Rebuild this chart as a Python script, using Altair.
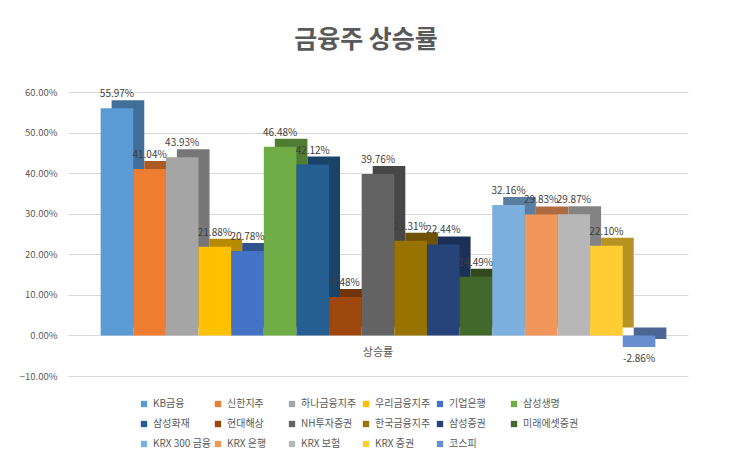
import altair as alt
import pandas as pd

category = "상승률"
series = ["KB금융", "신한지주", "하나금융지주", "우리금융지주", "기업은행", "삼성생명",
          "삼성화재", "현대해상", "NH투자증권", "한국금융지주", "삼성증권", "미래에셋증권",
          "KRX 300 금융", "KRX 은행", "KRX 보험", "KRX 증권", "코스피"]
values = [55.97, 41.04, 43.93, 21.88, 20.78, 46.48,
          42.12, 9.48, 39.76, 23.31, 22.44, 14.49,
          32.16, 29.83, 29.87, 22.10, -2.86]
colors = ["#5B9BD5", "#ED7D31", "#A5A5A5", "#FFC000", "#4472C4", "#70AD47",
          "#255E91", "#9E480E", "#636363", "#997300", "#264478", "#43682B",
          "#7CAFDD", "#F1975A", "#B7B7B7", "#FFCD33", "#698ED0"]
y_ticks = [-10, 0, 10, 20, 30, 40, 50, 60]


def darken(h, f=0.72):
    h = h.lstrip("#")
    r, g, b = (int(h[i:i + 2], 16) for i in (0, 2, 4))
    return "#{:02x}{:02x}{:02x}".format(int(r * f), int(g * f), int(b * f))


df = pd.DataFrame({
    "cat": category,
    "series": series,
    "value": values,
    "side": [darken(c) for c in colors],
    "label": [f"{v:.2f}%" for v in values],
})

FONT = "Noto Sans CJK KR"

x_enc = alt.X("series:N", sort=series, axis=None,
              scale=alt.Scale(paddingInner=0, paddingOuter=1))
y_enc = alt.Y("value:Q",
              scale=alt.Scale(domain=[-10, 60], nice=False, zero=True),
              axis=alt.Axis(values=y_ticks, title=None, domain=False, ticks=False,
                            labelExpr="format(datum.value, '.2f') + '%'",
                            gridColor="#d9d9d9", labelColor="#595959",
                            labelFontSize=9.5, labelPadding=11, labelFont=FONT))

base = alt.Chart(df).encode(x=x_enc)

back = base.mark_bar(xOffset=11, x2Offset=11, yOffset=-8, y2Offset=-8).encode(
    y=y_enc,
    color=alt.Color("side:N", scale=None),
)

front = base.mark_bar().encode(
    y=alt.Y("value:Q"),
    color=alt.Color("series:N", sort=series,
                    scale=alt.Scale(domain=series, range=colors),
                    legend=alt.Legend(title=None, orient="none", legendX=71, legendY=307,
                                      direction="horizontal", gridAlign="all",
                                      columns=6, symbolType="square", symbolSize=40,
                                      labelFontSize=10, labelColor="#595959", labelFont=FONT,
                                      columnPadding=1, rowPadding=10)),
)

labels_pos = base.transform_filter("datum.value >= 0").mark_text(
    dy=-14, fontSize=10, color="#404040", font=FONT
).encode(y=alt.Y("value:Q"), text="label:N")

labels_neg = base.transform_filter("datum.value < 0").mark_text(
    dy=12, fontSize=10, color="#404040", font=FONT
).encode(y=alt.Y("value:Q"), text="label:N")

cat_label = alt.Chart(pd.DataFrame({"cat": [category]})).mark_text(
    dy=18, fontSize=11, color="#595959", font=FONT
).encode(x=alt.datum(series[len(series) // 2]), y=alt.datum(0), text="cat:N")

chart = alt.layer(back, front, labels_pos, labels_neg, cat_label).properties(
    width=620, height=284,
    title=alt.TitleParams("금융주 상승률", fontSize=25, fontWeight="bold", color="#595959",
                          font=FONT, anchor="middle", offset=34, dx=-12),
    autosize=alt.AutoSizeParams(type="none"),
    padding={"left": 60, "top": 84, "right": 34, "bottom": 78},
).configure_view(stroke=None)

chart.save("out.html", embed_options={"renderer": "svg", "actions": False})
